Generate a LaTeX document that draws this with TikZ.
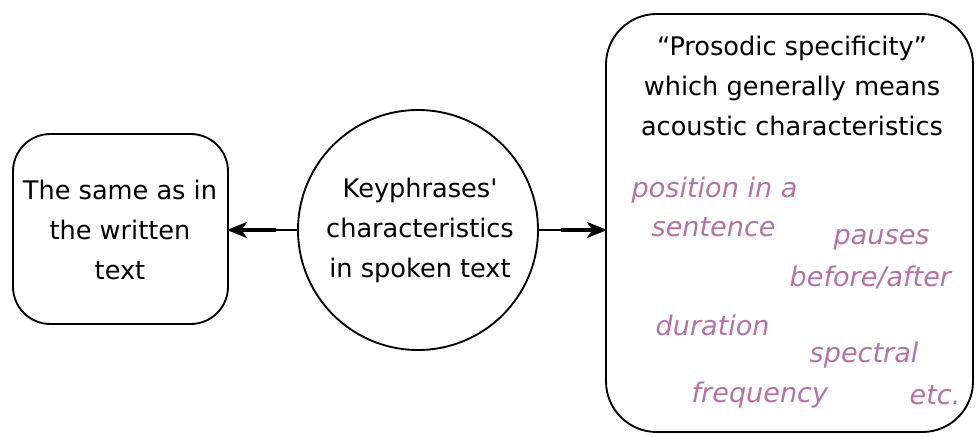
\documentclass[tikz,border=0pt]{standalone}
\usepackage{fontspec}
\setmainfont{DejaVu Sans}
\usetikzlibrary{arrows.meta}
\definecolor{pinkish}{HTML}{B572A6}
\begin{document}
\begin{tikzpicture}[x=0.75pt,y=-0.75pt,
  frame/.style={draw=black,line width=1.4pt},
  txt/.style={font=\fontsize{19.2}{30}\selectfont,align=center,text=black},
  item/.style={font=\fontsize{20.3}{28}\selectfont\itshape,text=pinkish,align=center},
  shaft/.style={line width=1.1pt},
  conn/.style={line width=2.6pt,arrows={-Stealth[length=15pt,width=12pt,inset=4pt]}}]
\useasboundingbox (0,0) rectangle (979,436);
\fill[white] (0,0) rectangle (979,436);
% left box
\draw[frame,rounded corners=28] (13,134) rectangle (228,324);
\node[txt] (left) at (120,230) {The same as in\\the written\\text};
\coordinate (leftE) at (227,230);
% circle
\node[frame,circle,minimum size=240*0.75pt,inner sep=0pt] (mid) at (418,230) {};
\node[txt] (midt) at (420,230) {Keyphrases\textquotesingle\\characteristics\\in spoken text};
% right box
\draw[frame,rounded corners=38] (606,14) rectangle (973,432);
\coordinate (rightW) at (607,230);
\node[txt] (head) at (792,86) {“Prosodic specificity”\\which generally means\\acoustic characteristics};
\node[item,anchor=west] (pos) at (627,190) {position in a};
\node[item,anchor=west] (sen) at (647,227) {sentence};
\node[item,anchor=west] (pau) at (829,240) {pauses};
\node[item,anchor=west] (bef) at (785,277) {before/after};
\node[item,anchor=west] (dur) at (651,325) {duration};
\node[item,anchor=west] (spe) at (805,355) {spectral};
\node[item,anchor=west] (fre) at (687,395) {frequency};
\node[item,anchor=west] (etc) at (905,395) {etc.};
% connectors
\coordinate (aL) at (276,230);
\coordinate (aR) at (561,230);
\draw[shaft] (mid.west) -- (aL);
\draw[conn] (aL) -- (leftE);
\draw[shaft] (mid.east) -- (aR);
\draw[conn] (aR) -- (rightW);
\end{tikzpicture}
\end{document}
